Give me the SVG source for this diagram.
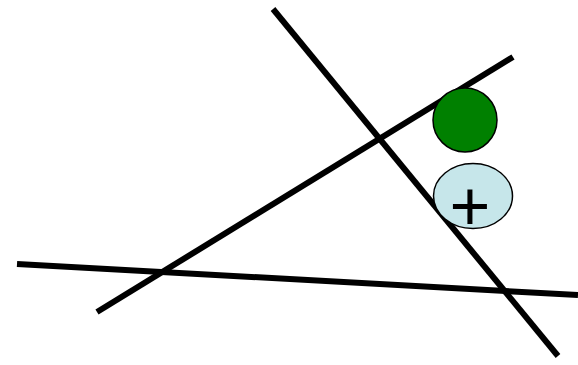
<svg xmlns="http://www.w3.org/2000/svg" width="578" height="365" viewBox="0 0 578 365">
<style>
.ln{stroke:#000;stroke-width:6;fill:none}
.sh{stroke:#000;stroke-width:1.5}
.lbl{font-family:"Liberation Sans",Arial,sans-serif;font-size:70px;fill:#000;text-anchor:middle}
</style>
<rect width="578" height="365" fill="#fff"/>
<g id="connectors">
<line class="ln" x1="17" y1="264" x2="578" y2="295"/>
<line class="ln" x1="97" y1="312" x2="513" y2="57"/>
<line class="ln" x1="273" y1="9" x2="558" y2="356"/>
</g>
<g id="green-circle">
<ellipse class="sh" cx="465" cy="120" rx="32" ry="32" fill="#008000"/>
</g>
<g id="plus-node">
<ellipse class="sh" cx="473" cy="196" rx="39.5" ry="32.5" fill="#C6E6EA"/>
<text class="lbl" x="470" y="230">+</text>
</g>
</svg>
